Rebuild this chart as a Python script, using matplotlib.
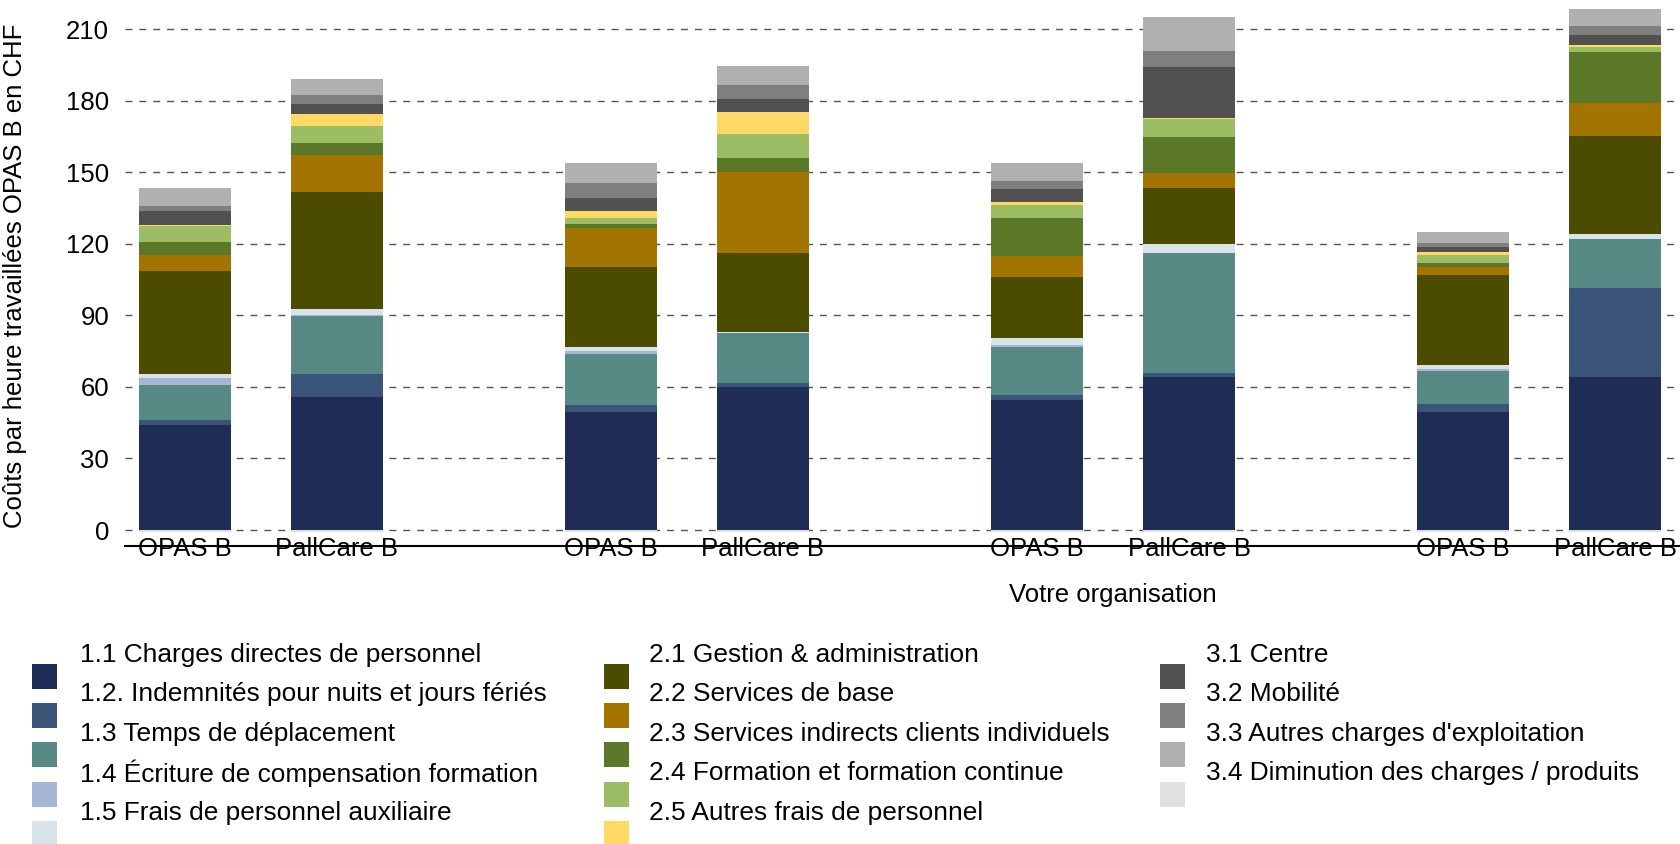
import numpy as np
import matplotlib as mpl
mpl.use("Agg")
import matplotlib.pyplot as plt
from matplotlib.patches import Rectangle

plt.rcParams["font.family"] = ["Liberation Sans", "DejaVu Sans"]
plt.rcParams["font.size"] = 18.5

# one value per bar: OPAS B / PallCare B, four groups
bar_labels = ["OPAS B", "PallCare B"] * 4

s11 = [44.0, 55.6, 49.6, 60.1, 54.5, 64.3, 49.6, 64.3]
s12 = [2.1, 9.8, 2.7, 1.7, 2.1, 1.4, 3.2, 37.1]
s13 = [14.7, 24.5, 21.5, 20.7, 20.2, 50.6, 14.0, 20.7]
s14 = [3.1, 0.3, 1.3, 0.0, 0.9, 0.0, 0.9, 0.0]
s15 = [1.4, 2.4, 1.7, 0.4, 2.8, 3.8, 1.5, 2.1]
s21 = [43.5, 49.3, 33.6, 33.2, 25.7, 23.5, 37.9, 41.2]
s22 = [6.5, 15.4, 16.4, 34.1, 8.7, 6.1, 3.2, 13.8]
s23 = [5.4, 5.2, 1.4, 6.0, 15.8, 15.0, 1.7, 21.2]
s24 = [6.8, 7.1, 2.8, 9.9, 5.7, 7.6, 3.4, 2.3]
s25 = [0.4, 4.8, 2.7, 9.2, 1.2, 0.6, 1.0, 0.8]
s31 = [5.8, 4.3, 5.4, 5.5, 5.4, 21.2, 2.4, 4.3]
s32 = [2.3, 3.8, 6.6, 6.0, 3.4, 6.8, 1.6, 3.5]
s33 = [7.6, 6.8, 8.4, 7.9, 7.4, 14.1, 4.8, 7.4]
s34 = [-1.0, -1.0, -1.0, -1.0, -1.0, -1.0, -1.0, -1.0]

series_names = [
    "1.1 Charges directes de personnel",
    "1.2. Indemnités pour nuits et jours fériés",
    "1.3 Temps de déplacement",
    "1.4 Écriture de compensation formation",
    "1.5 Frais de personnel auxiliaire",
    "2.1 Gestion & administration",
    "2.2 Services de base",
    "2.3 Services indirects clients individuels",
    "2.4 Formation et formation continue",
    "2.5 Autres frais de personnel",
    "3.1 Centre",
    "3.2 Mobilité",
    "3.3 Autres charges d'exploitation",
    "3.4 Diminution des charges / produits",
]
series_values = [s11, s12, s13, s14, s15, s21, s22, s23, s24, s25,
                 s31, s32, s33, s34]
series_colors = ["#1f2c55", "#3b5479", "#578a84", "#a6b6d4", "#d8e4ea",
                 "#4c4c00", "#a37500", "#5b7829", "#9cbd63", "#ffd966",
                 "#515151", "#7f7f7f", "#b0b0b0", "#e0e0e0"]
legend_cols = [0, 0, 0, 0, 0, 1, 1, 1, 1, 1, 2, 2, 2, 2]

W, H = 1681, 844
fig = plt.figure(figsize=(W / 100, H / 100), dpi=100)
ax = fig.add_axes([125 / W, (H - 546) / H, (W - 125) / W, 546 / H])

# bar positions: pairs around each group centre
groups = np.arange(4)
x = np.column_stack([groups - 0.1784, groups + 0.1784]).ravel()
width = 0.216

pos_bottom = np.zeros(len(x))
neg_bottom = np.zeros(len(x))
for vals, color in zip(series_values, series_colors):
    vals = np.asarray(vals, dtype=float)
    bottom = np.where(vals >= 0, pos_bottom, neg_bottom)
    ax.bar(x, vals, width, bottom=bottom, color=color, linewidth=0, zorder=2)
    pos_bottom += np.clip(vals, 0, None)
    neg_bottom += np.clip(vals, None, 0)

ax.set_xlim(-0.319, 3.333)
ax.set_ylim(-6.7, 222.3)
ax.set_yticks(np.arange(0, 211, 30))
ax.set_xticks(x)
ax.set_xticklabels(bar_labels)
ax.tick_params(axis="y", length=0, pad=11.5)
ax.tick_params(axis="x", length=0, pad=-6.2)

ax.yaxis.grid(True, linestyle=(0, (5, 5)), color="#555555", linewidth=1.0)
ax.set_axisbelow(True)
for side in ["top", "right", "left"]:
    ax.spines[side].set_visible(False)
ax.spines["bottom"].set_linewidth(1.5)
ax.spines["bottom"].set_color("black")
ax.spines["bottom"].set_zorder(3)

ax.set_ylabel("Coûts par heure travaillées OPAS B en CHF")
ax.yaxis.set_label_coords(-0.0627, 0.495)
ax.set_xlabel("Votre organisation")
ax.xaxis.set_label_coords(0.635, -0.09)
ax.xaxis.label.set_va("center")

# legend drawn by hand: three columns, swatches sit half a row below text
col_sq_x = [32, 604, 1160]
col_tx_x = [80, 649, 1206]
row_h = 39.4
sq = 25
row_count = [0, 0, 0]
for name, color, col in zip(series_names, series_colors, legend_cols):
    r = row_count[col]
    row_count[col] += 1
    ty = 655 + r * row_h
    sy = 676 + r * row_h
    fig.add_artist(Rectangle((col_sq_x[col] / W, 1 - (sy + sq / 2) / H),
                             sq / W, sq / H, transform=fig.transFigure,
                             facecolor=color, edgecolor="none"))
    fig.text(col_tx_x[col] / W, 1 - ty / H, name, ha="left", va="center",
             fontsize=18.9)

fig.savefig("out.png", dpi=100)
